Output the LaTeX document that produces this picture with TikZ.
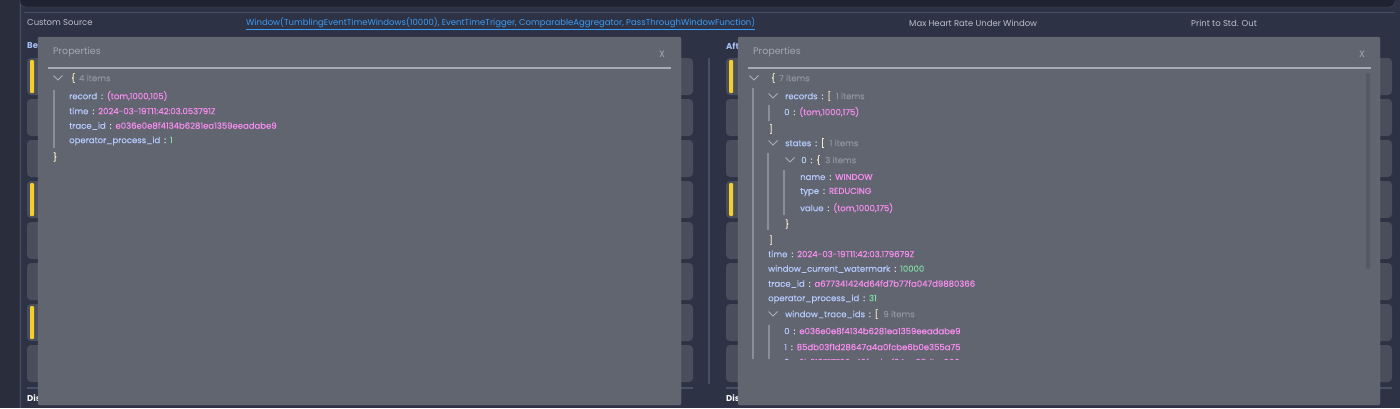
\documentclass[tikz,border=0pt]{standalone}
\usepackage{fontspec}
\setmainfont{Poppins}
\newfontfamily\uifont{Poppins}[FakeBold=0.3]
\usetikzlibrary{calc}
\definecolor{bgc}{HTML}{2D3244}
\definecolor{stripc}{HTML}{292D3C}
\definecolor{topc}{HTML}{1F2331}
\definecolor{linec}{HTML}{4A5064}
\definecolor{tilec}{HTML}{4A4E5C}
\definecolor{yelc}{HTML}{F2CF2A}
\definecolor{dlgc}{HTML}{61656F}
\definecolor{dlgedge}{HTML}{6C707A}
\definecolor{titc}{HTML}{A3A7B1}
\definecolor{sepc}{HTML}{A6ABB8}
\definecolor{hdrc}{HTML}{BEC2CC}
\definecolor{linkc}{HTML}{3D9CF5}
\definecolor{lblc}{HTML}{A8BFF5}
\definecolor{keyc}{HTML}{B6CAFF}
\definecolor{colc}{HTML}{EEF0F5}
\definecolor{strc}{HTML}{F78DF0}
\definecolor{numc}{HTML}{80D9A6}
\definecolor{metac}{HTML}{90949E}
\definecolor{brc}{HTML}{F2EBCB}
\definecolor{chevc}{HTML}{A6AEC4}
\definecolor{guidec}{HTML}{8A8E99}
\definecolor{scrc}{HTML}{555963}
\newcommand{\kv}[3]{{\color{keyc}#1}\hspace{4pt}{\color{colc}:}\hspace{4pt}{\color{#3}#2}}
\newcommand{\grp}[3]{{\color{keyc}#1}\hspace{4pt}{\color{colc}:}\hspace{4pt}{\color{brc}#2}\hspace{5pt}{\color{metac}#3}}

\begin{document}
\begin{tikzpicture}[x=1pt,y=-1pt,
  txt/.style={anchor=west,inner sep=0,font=\uifont\fontsize{8.5}{9}\selectfont},
  hdr/.style={anchor=west,inner sep=0,font=\fontsize{8.5}{9}\selectfont,text=hdrc},
  ttl/.style={hdr,text=titc,font=\fontsize{9.5}{10}\selectfont},
  lbl/.style={hdr,font=\fontsize{8.5}{9}\selectfont\bfseries},
  guide/.style={guidec,line width=1.6pt},
  dlg/.style={fill=dlgc,draw=dlgedge,rounded corners=2pt}]
\useasboundingbox (0,0) rectangle (1400,408);
\fill[bgc] (0,0) rectangle (1400,408);
\fill[stripc] (0,0) rectangle (19,408);
\draw[linec] (20,0) -- (20,408);
\fill[topc,draw=linec,rounded corners=5pt] (20,-8) rectangle (1395,7);
\draw[linec,line width=1.2pt] (24,12.5) -- (1395,12.5);
% header row
\node[hdr] (hsrc) at (27,23) {Custom Source};
\node[hdr,text=linkc] (hwin) at (246,23) {Window(TumblingEventTimeWindows(10000), EventTimeTrigger, ComparableAggregator, PassThroughWindowFunction)};
\draw[linkc] ($(hwin.south west)+(0,1)$) -- ($(hwin.south east)+(0,1)$);
\node[hdr] (hmax) at (909,23) {Max Heart Rate Under Window};
\node[hdr] (hprint) at (1191,23) {Print to Std. Out};
\node[lbl,text=lblc] (lbe) at (27,46) {Be};
\node[lbl,text=lblc] (laft) at (726,46) {Aft};
\node[lbl,text=white] (ldisa) at (27,398) {Dis};
\node[lbl,text=white] (ldisb) at (726,398) {Dis};
% rows behind the dialogs
\foreach \i in {0,...,7} {
 \fill[tilec,rounded corners=4pt] (27,58+41*\i) rectangle ++(666,37);
 \fill[tilec,rounded corners=4pt] (726,58+41*\i) rectangle ++(666,37);
}
\foreach \x/\i in {30/0,30/3,30/6,729/0,729/3}
 \fill[yelc,rounded corners=1pt] (\x,60+41*\i) rectangle ++(4,33);
\draw[linec,line width=1.5pt] (27,388) -- (693,388) (726,388) -- (1392,388);
\draw[linec,line width=1.2pt] (709,58) -- (709,384);
% dialogs
\draw[dlg] (38,37) rectangle (681,405);
\draw[dlg] (738,37) rectangle (1380,405);
\node[ttl] (ptl) at (53,52) {Properties};
\node[ttl] (ptr) at (753,52) {Properties};
\node[ttl] (xl) at (659,54) {X};
\node[ttl] (xr) at (1359,54) {X};
\draw[sepc,line width=1.5pt] (48,68) -- (671,68) (748,68) -- (1371,68);
\fill[scrc,rounded corners=2pt] (1366,73) rectangle (1370,269);
\foreach \cx/\cy in {58/78,754/78,773/96,773/143,790/160,773/314}
 \draw[chevc,line width=1pt] (\cx-4.5,\cy-2.5) -- (\cx,\cy+2) -- (\cx+4.5,\cy-2.5);
% left dialog content
\node[txt] (lroot) at (71,78) {{\color{brc}\{}\hspace{4pt}{\color{metac}4 items}};
\draw[guide] (54,90) -- (54,148);
\node[txt] (lrec) at (69,96) {\kv{record}{(tom,1000,105)}{strc}};
\node[txt] (ltime) at (69,111) {\kv{time}{2024-03-19T11:42:03.053791Z}{strc}};
\node[txt] (ltrace) at (69,126) {\kv{trace\_id}{e036e0e8f4134b6281ea1359eeadabe9}{strc}};
\node[txt] (lop) at (69,141) {\kv{operator\_process\_id}{1}{numc}};
\node[txt,text=brc] (lend) at (53,157) {\}};
% right dialog content
\node[txt] (rroot) at (771,78) {{\color{brc}\{}\hspace{4pt}{\color{metac}7 items}};
\draw[guide] (753,88) -- (753,359);
\node[txt] (rrecs) at (785,96) {\grp{records}{[}{1 items}};
\draw[guide] (769,105) -- (769,121);
\node[txt] (rrec0) at (784,112) {\kv{0}{(tom,1000,175)}{strc}};
\node[txt,text=brc] (rrecsend) at (769,129) {]};
\node[txt] (rstates) at (785,143) {\grp{states}{[}{1 items}};
\draw[guide] (768,153) -- (768,230);
\node[txt] (rst0) at (801,160) {\grp{0}{\{}{3 items}};
\draw[guide] (784,170) -- (784,215);
\node[txt] (rname) at (800,177) {\kv{name}{WINDOW}{strc}};
\node[txt] (rtype) at (800,192) {\kv{type}{REDUCING}{strc}};
\node[txt] (rval) at (800,208) {\kv{value}{(tom,1000,175)}{strc}};
\node[txt,text=brc] (rst0end) at (785,224) {\}};
\node[txt,text=brc] (rstatesend) at (769,240) {]};
\node[txt] (rtime) at (768,254) {\kv{time}{2024-03-19T11:42:03.179679Z}{strc}};
\node[txt] (rwm) at (768,269) {\kv{window\_current\_watermark}{10000}{numc}};
\node[txt] (rtrace) at (768,284) {\kv{trace\_id}{a677341424d64fd7b77fa047d9880366}{strc}};
\node[txt] (rop) at (768,299) {\kv{operator\_process\_id}{31}{numc}};
\node[txt] (rwids) at (785,314) {\grp{window\_trace\_ids}{[}{9 items}};
\draw[guide] (769,325) -- (769,359);
\node[txt] (rid0) at (784,331) {\kv{0}{e036e0e8f4134b6281ea1359eeadabe9}{strc}};
\node[txt] (rid1) at (784,347) {\kv{1}{85db03f1d28647a4a0fcbe6b0e355a75}{strc}};
\begin{scope}
\clip (740,352) rectangle (1370,359);
\node[txt] (rid2) at (784,362) {\kv{2}{0b318717736e49faabcf34ae95dba666}{strc}};
\end{scope}
\end{tikzpicture}
\end{document}
